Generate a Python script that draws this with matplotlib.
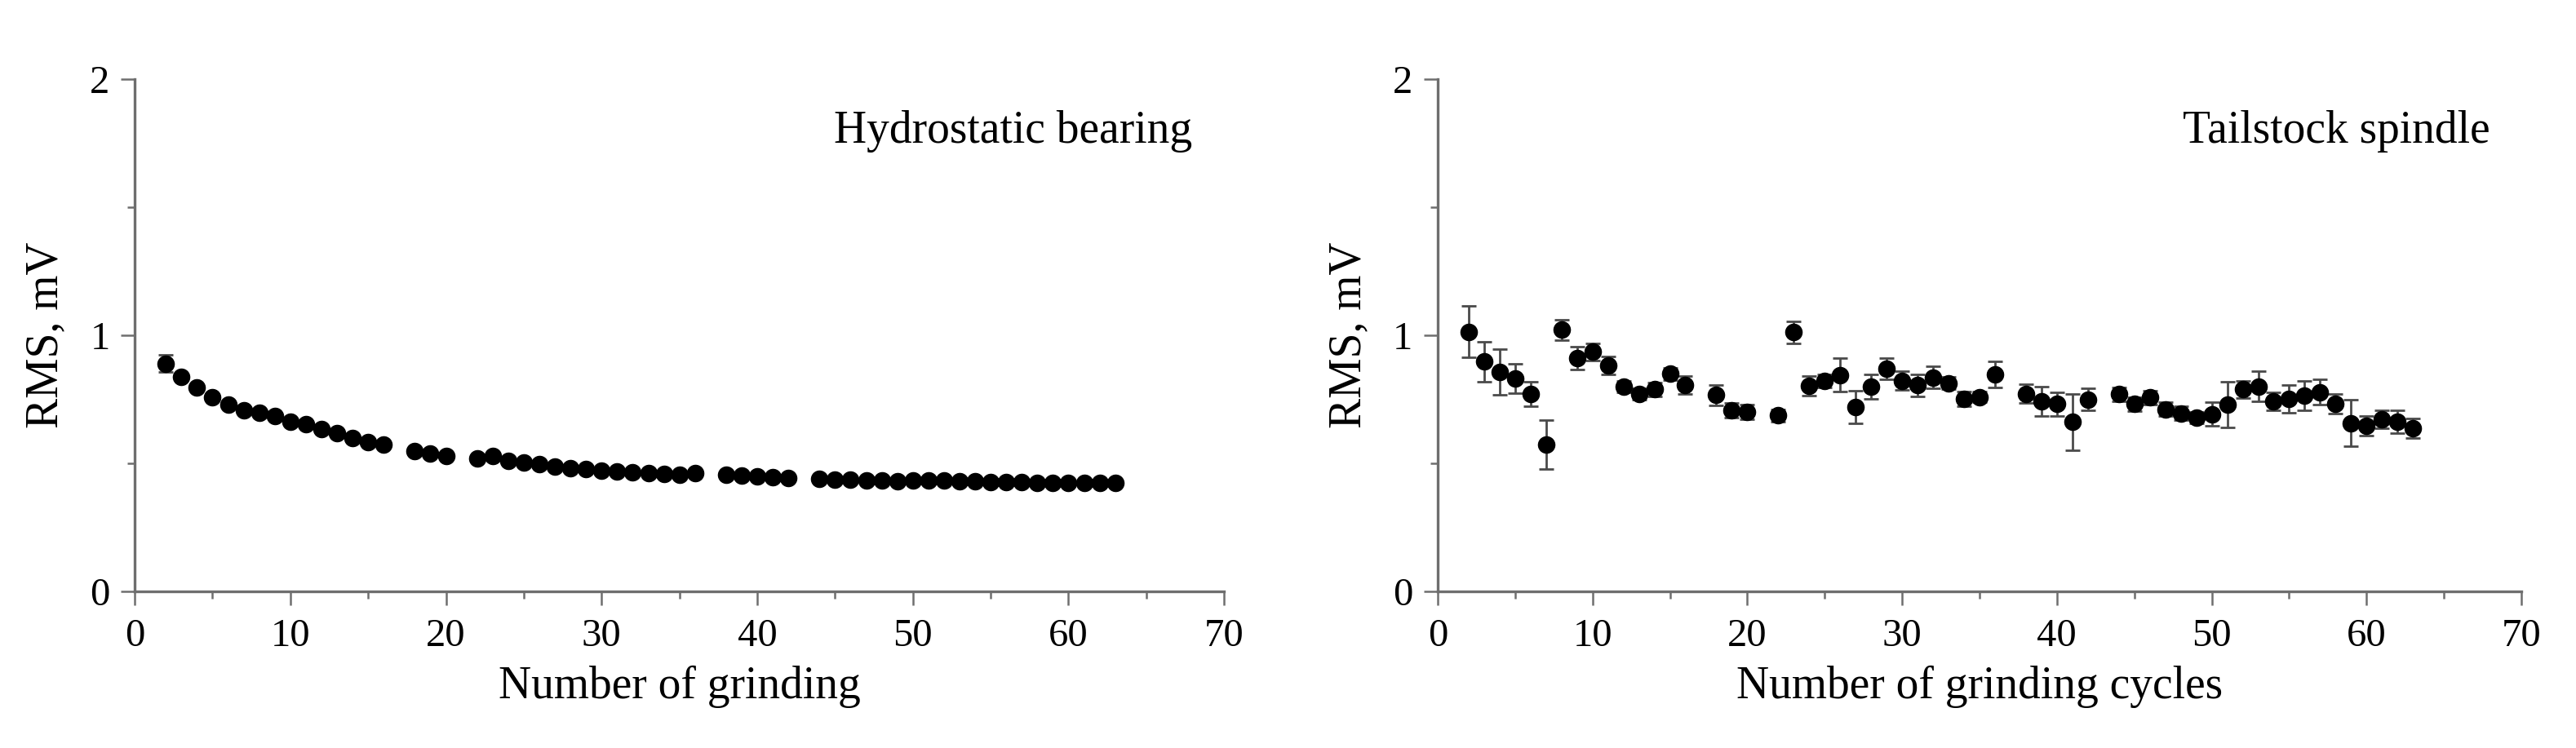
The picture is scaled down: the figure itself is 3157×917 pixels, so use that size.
import matplotlib
matplotlib.use("Agg")
import matplotlib.pyplot as plt
from matplotlib.ticker import MultipleLocator

plt.rcParams['font.family'] = ['Liberation Serif', 'DejaVu Serif']

# left panel: hydrostatic bearing
x_left = [2, 3, 4, 5, 6, 7, 8, 9, 10, 11, 12, 13, 14, 15, 16,
          18, 19, 20,
          22, 23, 24, 25, 26, 27, 28, 29, 30, 31, 32, 33, 34, 35, 36,
          38, 39, 40, 41, 42,
          44, 45, 46, 47, 48, 49, 50, 51, 52, 53, 54, 55, 56, 57, 58, 59, 60, 61, 62, 63]
rms_left = [0.889, 0.836, 0.797, 0.758, 0.730, 0.705, 0.698, 0.683, 0.662, 0.652,
            0.632, 0.618, 0.598, 0.583, 0.574,
            0.546, 0.538, 0.527,
            0.519, 0.527, 0.510, 0.502, 0.495, 0.488, 0.482, 0.477, 0.472, 0.468,
            0.464, 0.460, 0.457, 0.455, 0.463,
            0.455, 0.451, 0.448, 0.445, 0.443,
            0.440, 0.437, 0.435, 0.433, 0.432, 0.430, 0.432, 0.432, 0.433, 0.431,
            0.430, 0.428, 0.426, 0.427, 0.424, 0.424, 0.422, 0.423, 0.424, 0.422]
err_left = [0.033] + [0.01] * (len(x_left) - 1)

# right panel: tailstock spindle
x_right = [2, 3, 4, 5, 6, 7, 8, 9, 10, 11, 12, 13, 14, 15, 16,
           18, 19, 20,
           22, 23, 24, 25, 26, 27, 28, 29, 30, 31, 32, 33, 34, 35, 36,
           38, 39, 40, 41, 42,
           44, 45, 46, 47, 48, 49, 50, 51, 52, 53, 54, 55, 56, 57, 58, 59, 60, 61, 62, 63]
rms_right = [1.013, 0.896, 0.856, 0.832, 0.770, 0.573, 1.021, 0.910, 0.935, 0.881,
             0.798, 0.771, 0.788, 0.849, 0.805,
             0.766, 0.707, 0.700,
             0.686, 1.011, 0.803, 0.822, 0.844, 0.720, 0.798, 0.868, 0.822, 0.805,
             0.835, 0.813, 0.751, 0.759, 0.847,
             0.771, 0.742, 0.731, 0.661, 0.749,
             0.769, 0.731, 0.756, 0.710, 0.695, 0.678, 0.692, 0.730, 0.788, 0.800,
             0.741, 0.751, 0.764, 0.778, 0.731, 0.656, 0.646, 0.671, 0.661, 0.637]
err_right = [0.100, 0.078, 0.090, 0.057, 0.047, 0.096, 0.040, 0.045, 0.034, 0.035,
             0.022, 0.023, 0.026, 0.024, 0.035,
             0.040, 0.028, 0.030,
             0.023, 0.042, 0.038, 0.025, 0.065, 0.063, 0.048, 0.041, 0.037, 0.043,
             0.043, 0.025, 0.030, 0.020, 0.052,
             0.037, 0.057, 0.046, 0.109, 0.043,
             0.028, 0.027, 0.027, 0.027, 0.028, 0.023, 0.047, 0.089, 0.033, 0.060,
             0.036, 0.054, 0.056, 0.049, 0.038, 0.091, 0.037, 0.036, 0.044, 0.038]

panels = [
    (x_left, rms_left, err_left, "Hydrostatic bearing", "Number of grinding"),
    (x_right, rms_right, err_right, "Tailstock spindle", "Number of grinding cycles"),
]

fig = plt.figure(figsize=(31.57, 9.17), dpi=100)
positions = [[0.0523, 0.2094, 0.4229, 0.6852], [0.5581, 0.2094, 0.4207, 0.6852]]
axis_color = '#6e6e6e'

for pos, (xs, ys, es, name, xlabel) in zip(positions, panels):
    ax = fig.add_axes(pos)
    ax.errorbar(xs, ys, yerr=es, fmt='o', color='black', markersize=14.5,
                ecolor='#4a4a4a', elinewidth=2.0, capsize=6.5, capthick=2.0, zorder=3)
    ax.set_xlim(0, 70)
    ax.set_ylim(0, 2)
    ax.xaxis.set_major_locator(MultipleLocator(10))
    ax.xaxis.set_minor_locator(MultipleLocator(5))
    ax.yaxis.set_major_locator(MultipleLocator(1))
    ax.yaxis.set_minor_locator(MultipleLocator(0.5))
    for side in ['top', 'right']:
        ax.spines[side].set_visible(False)
    for side in ['left', 'bottom']:
        ax.spines[side].set_color(axis_color)
        ax.spines[side].set_linewidth(2.4)
    ax.tick_params(which='major', direction='out', length=12, width=1.8,
                   color=axis_color, labelsize=35, pad=12)
    ax.tick_params(which='minor', direction='out', length=6.5, width=1.8, color=axis_color)
    ax.tick_params(axis='y', which='major', pad=10)
    ax.set_xlabel(xlabel, fontsize=40)
    ax.set_ylabel("RMS, mV", fontsize=40)
    ax.xaxis.set_label_coords(0.5, -0.145)
    ax.yaxis.set_label_coords(-0.062, 0.5)
    ax.text(0.971, 0.876, name, transform=ax.transAxes, ha='right', va='baseline',
            fontsize=40)

fig.savefig("out.png", dpi=100)
